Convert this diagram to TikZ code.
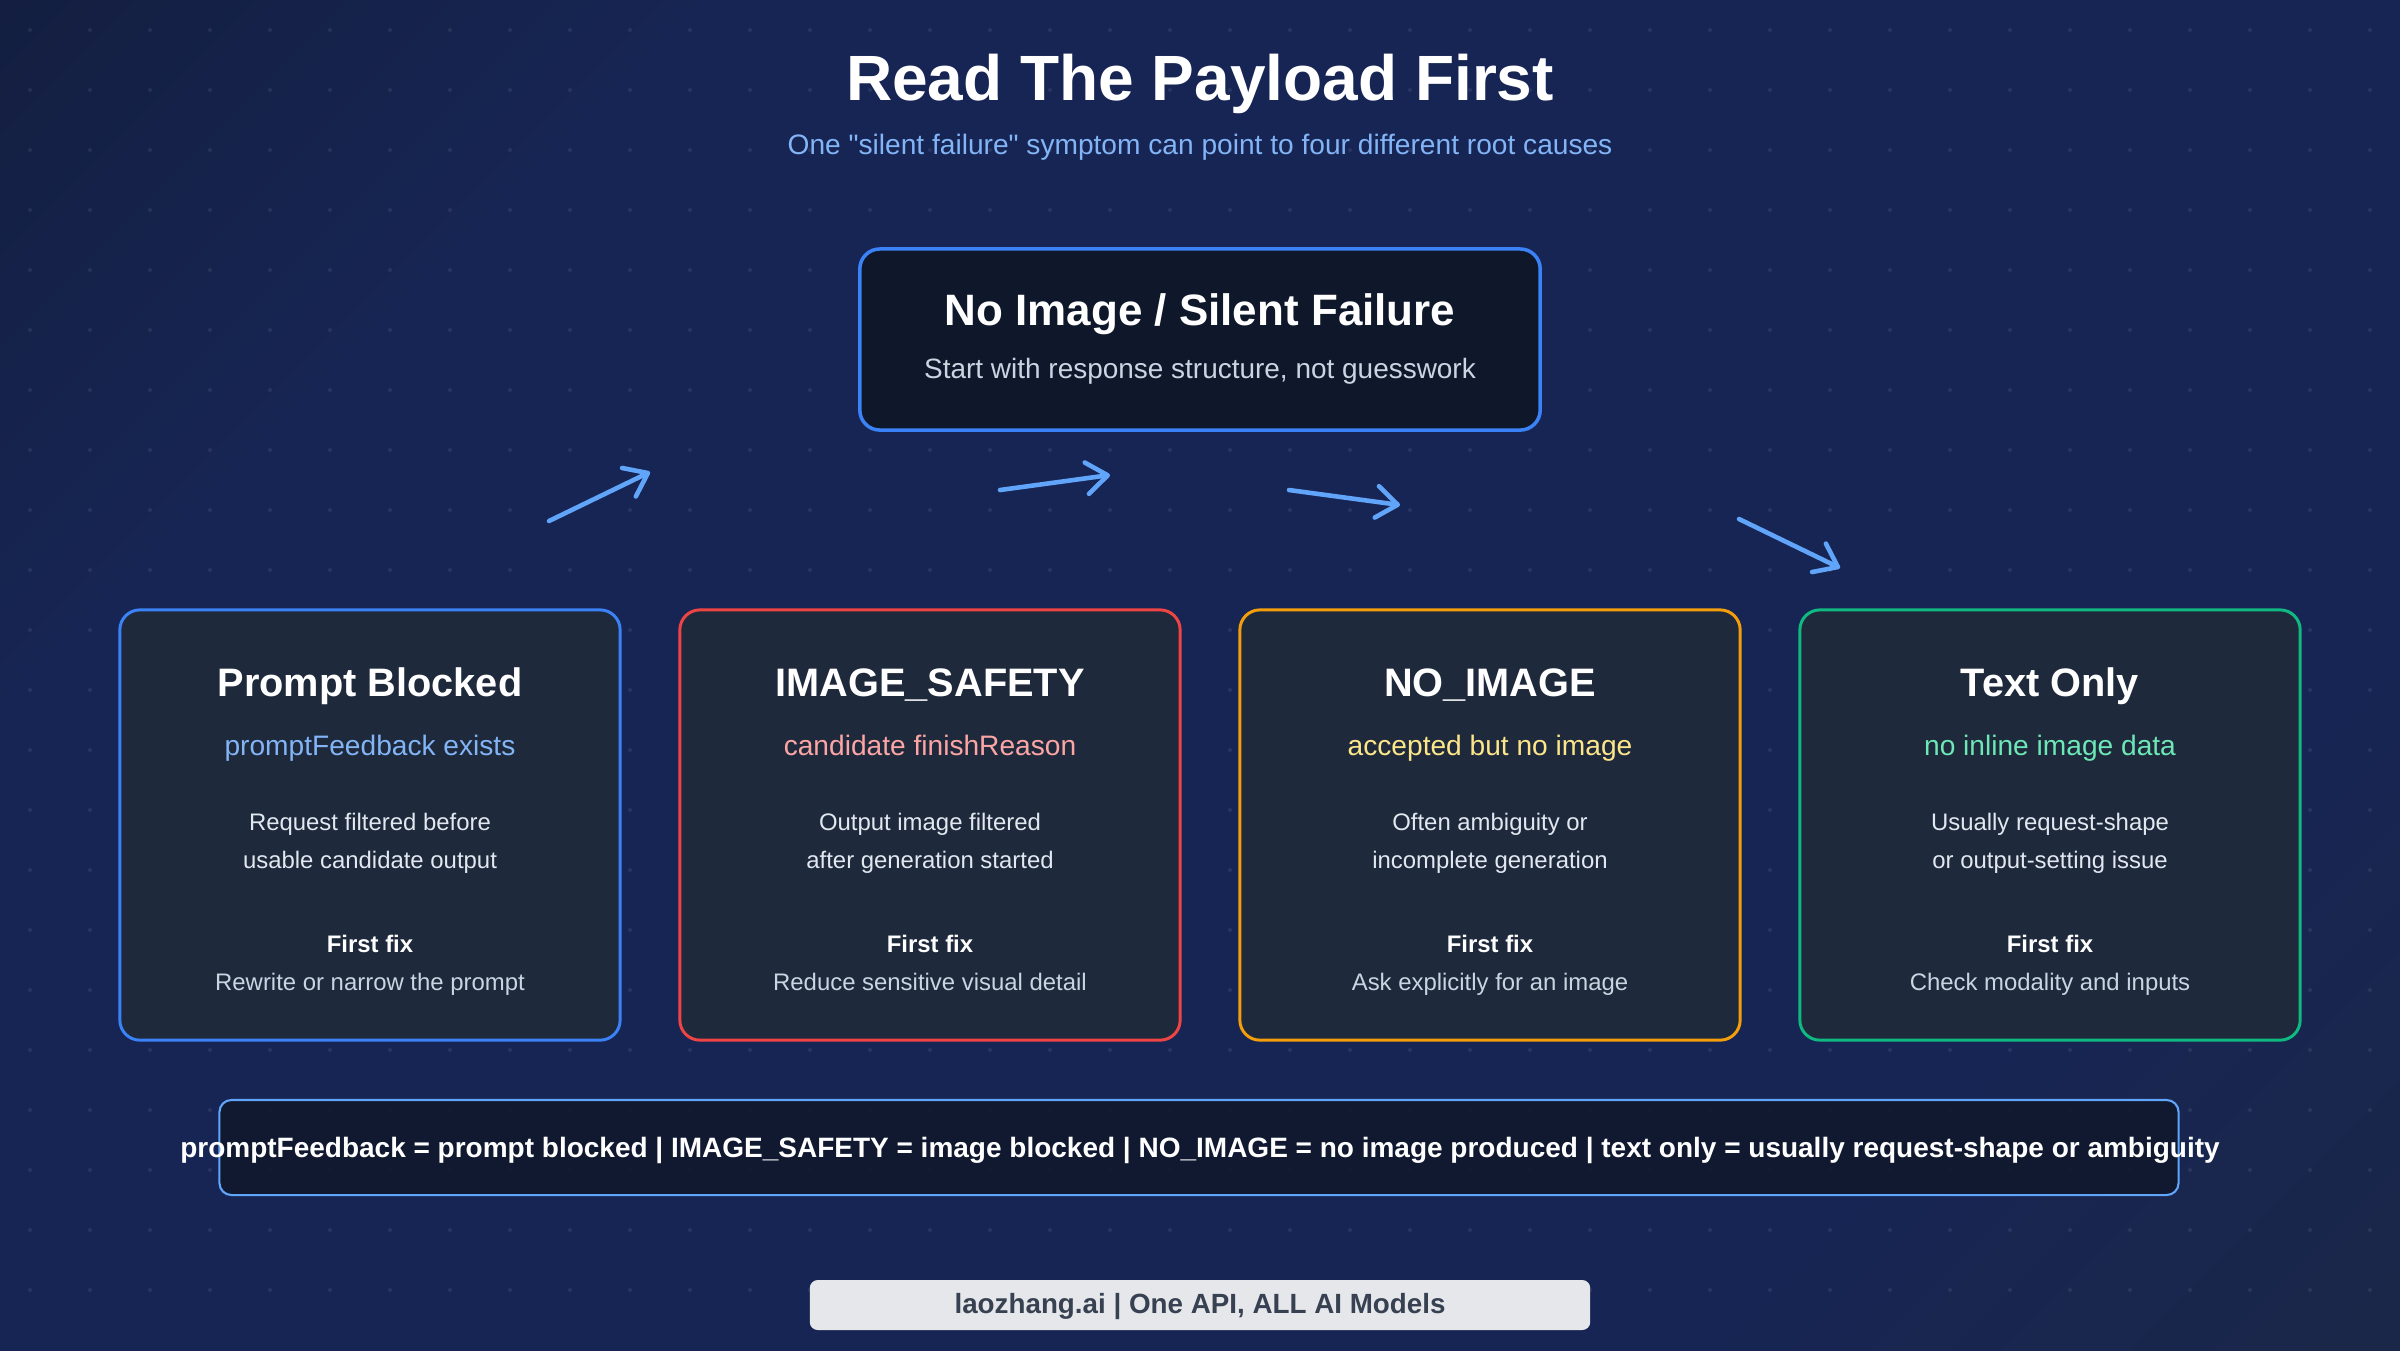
\documentclass[tikz,border=0pt]{standalone}
\usepackage{fontspec}
\setmainfont{Liberation Sans}[Ligatures=TeXOff]
\usetikzlibrary{arrows.meta}

\definecolor{bgdark}{HTML}{0F172A}
\definecolor{bgmid}{HTML}{172554}
\definecolor{bglight}{HTML}{1E293B}
\definecolor{cardfill}{HTML}{1E293B}
\definecolor{topfill}{HTML}{0F172A}
\definecolor{cblue}{HTML}{3B82F6}
\definecolor{cred}{HTML}{EF4444}
\definecolor{camber}{HTML}{F59E0B}
\definecolor{cgreen}{HTML}{10B981}
\definecolor{subblue}{HTML}{82B4F6}
\definecolor{subred}{HTML}{FCA5A5}
\definecolor{subyellow}{HTML}{FDE68A}
\definecolor{subgreen}{HTML}{6EE7B7}
\definecolor{lightblue}{HTML}{60A5FA}
\definecolor{desctext}{HTML}{E2E8F0}
\definecolor{mutedtext}{HTML}{CBD5E1}
\definecolor{footfill}{HTML}{E5E7EB}
\definecolor{foottext}{HTML}{374151}

\pgfdeclarehorizontalshading{bgfade}{100bp}{color(0bp)=(bgdark); color(28bp)=(bgmid);
  color(72bp)=(bgmid); color(100bp)=(bglight)}

\tikzset{
  txt/.style={anchor=base, inner sep=0pt},
  pagetitle/.style={txt, text=white, font=\fontsize{18.2}{22}\selectfont\bfseries},
  pagesub/.style={txt, text=subblue, font=\fontsize{8}{10}\selectfont},
  topbox/.style={draw=cblue, line width=1pt, fill=topfill, rounded corners=0.2cm,
    minimum width=6.8cm, minimum height=1.81cm},
  toptitle/.style={txt, text=white, font=\fontsize{12.5}{15}\selectfont\bfseries},
  topsub/.style={txt, text=mutedtext, font=\fontsize{7.95}{9}\selectfont},
  card/.style={draw=#1, line width=0.85pt, fill=cardfill, rounded corners=0.2cm,
    minimum width=5cm, minimum height=4.3cm},
  cardtitle/.style={txt, text=white, font=\fontsize{11.3}{13}\selectfont\bfseries},
  cardsub/.style={txt, text=#1, font=\fontsize{8}{10}\selectfont},
  carddesc/.style={txt, text=desctext, font=\fontsize{6.8}{8}\selectfont},
  fixhead/.style={txt, text=white, font=\fontsize{6.8}{8}\selectfont\bfseries},
  fixline/.style={txt, text=mutedtext, font=\fontsize{6.8}{8}\selectfont},
  legendbox/.style={draw=lightblue, line width=0.6pt, fill=bgdark, fill opacity=0.85,
    rounded corners=0.12cm, minimum width=19.58cm, minimum height=0.95cm},
  legendtext/.style={txt, text=white, font=\fontsize{7.96}{10}\selectfont\bfseries},
  footbox/.style={fill=footfill, rounded corners=0.08cm, minimum width=7.8cm, minimum height=0.5cm},
  foottxt/.style={txt, text=foottext, font=\fontsize{7.9}{9}\selectfont\bfseries},
  flow/.style={draw=lightblue, line width=1.3pt, line cap=round,
    -{Straight Barb[length=6pt, width=9pt, round]}},
  griddot/.style={fill=white, opacity=0.07}
}

\begin{document}
\begin{tikzpicture}[x=0.01cm, y=-0.01cm]
\shade[shading=bgfade, shading angle=-45] (0,0) rectangle (2400,1350);
\useasboundingbox (0,0) rectangle (2400,1350);
\foreach \gx in {30,90,...,2370}
  \foreach \gy in {30,90,...,1330}
    \fill[griddot] (\gx,\gy) circle[radius=0.6pt];

\node[pagetitle] (title) at (1200,100) {Read The Payload First};
\node[pagesub] (subtitle) at (1200,154) {One "silent failure" symptom can point to four different root causes};

\node[topbox] (silent) at (1200,339.5) {};
\node[toptitle] (silent-title) at (1200,325) {No Image / Silent Failure};
\node[topsub] (silent-sub) at (1200,378) {Start with response structure, not guesswork};

\coordinate (go1a) at (549,521);
\coordinate (go1b) at (650,472);
\coordinate (go2a) at (1000,490);
\coordinate (go2b) at (1110,475);
\coordinate (go3a) at (1289,490);
\coordinate (go3b) at (1400,505);
\coordinate (go4a) at (1739,519);
\coordinate (go4b) at (1840,568);
\draw[flow] (go1a) -- (go1b);
\draw[flow] (go2a) -- (go2b);
\draw[flow] (go3a) -- (go3b);
\draw[flow] (go4a) -- (go4b);

\node[card=cblue] (blocked) at (370,825) {};
\node[cardtitle] (blocked-title) at (370,696) {Prompt Blocked};
\node[cardsub=subblue] (blocked-sub) at (370,755) {promptFeedback exists};
\node[carddesc] (blocked-d1) at (370,830) {Request filtered before};
\node[carddesc] (blocked-d2) at (370,868) {usable candidate output};
\node[fixhead] (blocked-fh) at (370,952) {First fix};
\node[fixline] (blocked-fix) at (370,990) {Rewrite or narrow the prompt};

\node[card=cred] (safety) at (930,825) {};
\node[cardtitle] (safety-title) at (930,696) {IMAGE\_SAFETY};
\node[cardsub=subred] (safety-sub) at (930,755) {candidate finishReason};
\node[carddesc] (safety-d1) at (930,830) {Output image filtered};
\node[carddesc] (safety-d2) at (930,868) {after generation started};
\node[fixhead] (safety-fh) at (930,952) {First fix};
\node[fixline] (safety-fix) at (930,990) {Reduce sensitive visual detail};

\node[card=camber] (noimage) at (1490,825) {};
\node[cardtitle] (noimage-title) at (1490,696) {NO\_IMAGE};
\node[cardsub=subyellow] (noimage-sub) at (1490,755) {accepted but no image};
\node[carddesc] (noimage-d1) at (1490,830) {Often ambiguity or};
\node[carddesc] (noimage-d2) at (1490,868) {incomplete generation};
\node[fixhead] (noimage-fh) at (1490,952) {First fix};
\node[fixline] (noimage-fix) at (1490,990) {Ask explicitly for an image};

\node[card=cgreen] (textonly) at (2050,825) {};
\node[cardtitle] (textonly-title) at (2050,696) {Text Only};
\node[cardsub=subgreen] (textonly-sub) at (2050,755) {no inline image data};
\node[carddesc] (textonly-d1) at (2050,830) {Usually request-shape};
\node[carddesc] (textonly-d2) at (2050,868) {or output-setting issue};
\node[fixhead] (textonly-fh) at (2050,952) {First fix};
\node[fixline] (textonly-fix) at (2050,990) {Check modality and inputs};

\node[legendbox] (legend) at (1199,1147.5) {};
\node[legendtext] (legend-text) at (1200,1157) {promptFeedback = prompt blocked | IMAGE\_SAFETY = image blocked | NO\_IMAGE = no image produced | text only = usually request-shape or ambiguity};

\node[footbox] (footer) at (1200,1305) {};
\node[foottxt] (footer-text) at (1200,1313) {laozhang.ai | One API, ALL AI Models};
\end{tikzpicture}
\end{document}
